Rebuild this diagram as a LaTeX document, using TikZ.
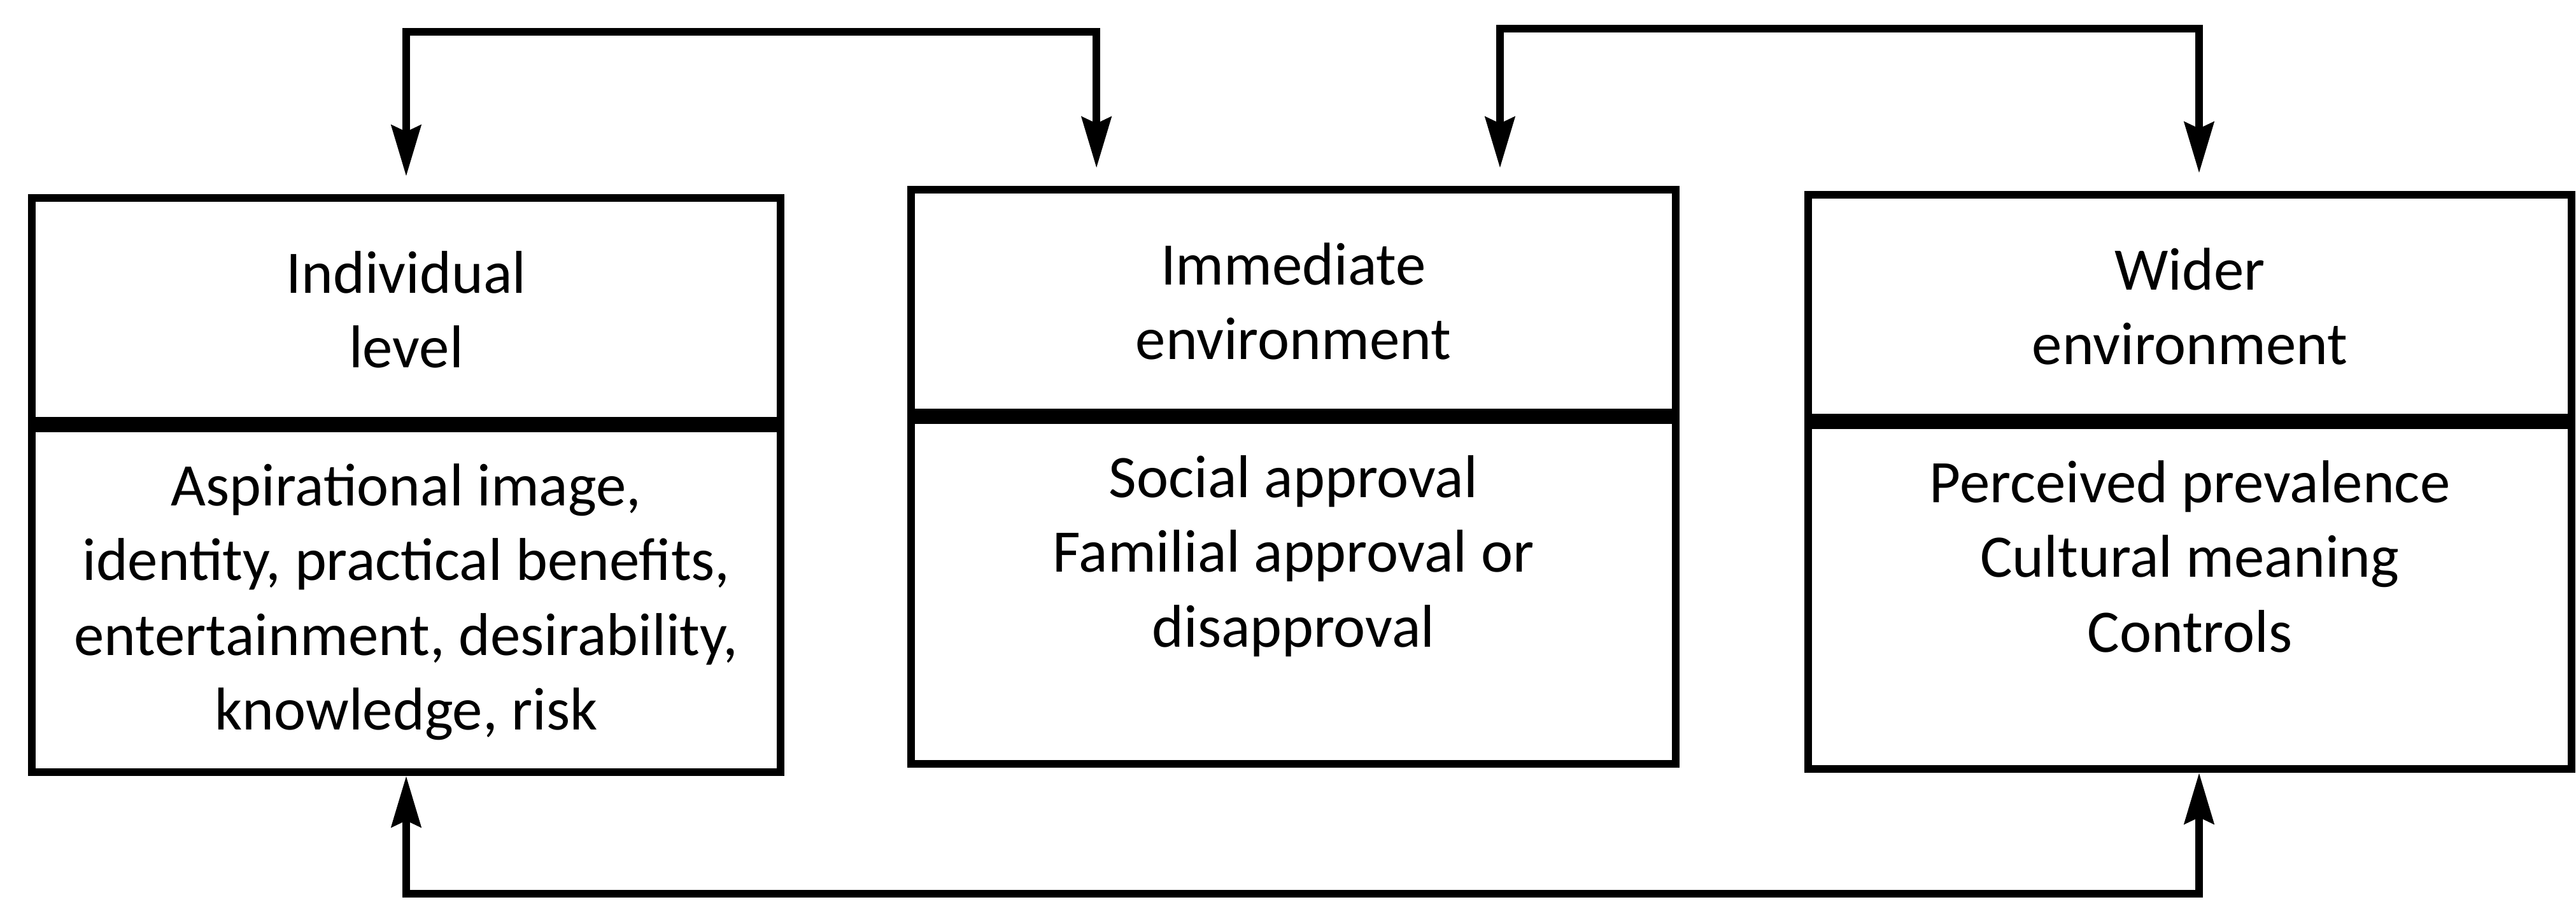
\documentclass[tikz,border=0pt]{standalone}
\usepackage{fontspec}
\setmainfont{Carlito}
\usetikzlibrary{arrows.meta,positioning,calc}
\newcommand{\boxfont}{\fontsize{27}{33.3}\selectfont}
\newcommand{\bodytext}[1]{\parbox[c][5.4cm][t]{11.7cm}{\centering\rule{0pt}{1.22cm}#1}}

\begin{document}
\begin{tikzpicture}[
    every node/.style={font=\boxfont},
    headbox/.style={draw, line width=3.4pt, minimum height=3.5cm, align=center, anchor=north west},
    bodybox/.style={draw, line width=3.4pt, minimum height=5.4cm, inner sep=0pt},
    link/.style={line width=3.4pt, line join=miter},
    twoway/.style={link, {Stealth[length=8mm,width=4.6mm,inset=1mm]}-{Stealth[length=8mm,width=4.6mm,inset=1mm]}}
  ]
  \useasboundingbox (0,0) rectangle (40.46,-14.16);

  % the three levels
  \node[headbox, minimum width=11.76cm] (ind) at (0.44,-3.05) {Individual\\level};
  \node[bodybox, minimum width=11.76cm, below=0pt of ind] (indb) {\bodytext{Aspirational image,\\identity, practical benefits,\\entertainment, desirability,\\knowledge, risk}};

  \node[headbox, minimum width=12.01cm] (imm) at (14.25,-2.92) {Immediate\\environment};
  \node[bodybox, minimum width=12.01cm, below=0pt of imm] (immb) {\bodytext{Social approval\\Familial approval or\\disapproval}};

  \node[headbox, minimum width=11.99cm] (wid) at (28.34,-3.0) {Wider\\environment};
  \node[bodybox, minimum width=11.99cm, below=0pt of wid] (widb) {\bodytext{Perceived prevalence\\Cultural meaning\\Controls}};

  % links between levels
  \coordinate (topa) at (10,-0.50);
  \coordinate (topb) at (29,-0.45);
  \coordinate (low) at (20,-14.04);
  \draw[twoway, shorten <=0.28cm, shorten >=0.28cm] (ind.north) |- (topa) -| ($(imm.north west)!0.245!(imm.north east)$);
  \draw[twoway, shorten <=0.28cm, shorten >=0.28cm] ($(imm.north west)!0.7675!(imm.north east)$) |- (topb) -| ($(wid.north west)!0.512!(wid.north east)$);
  \draw[twoway] (indb.south) |- (low) -| ($(widb.south west)!0.512!(widb.south east)$);
\end{tikzpicture}
\end{document}
